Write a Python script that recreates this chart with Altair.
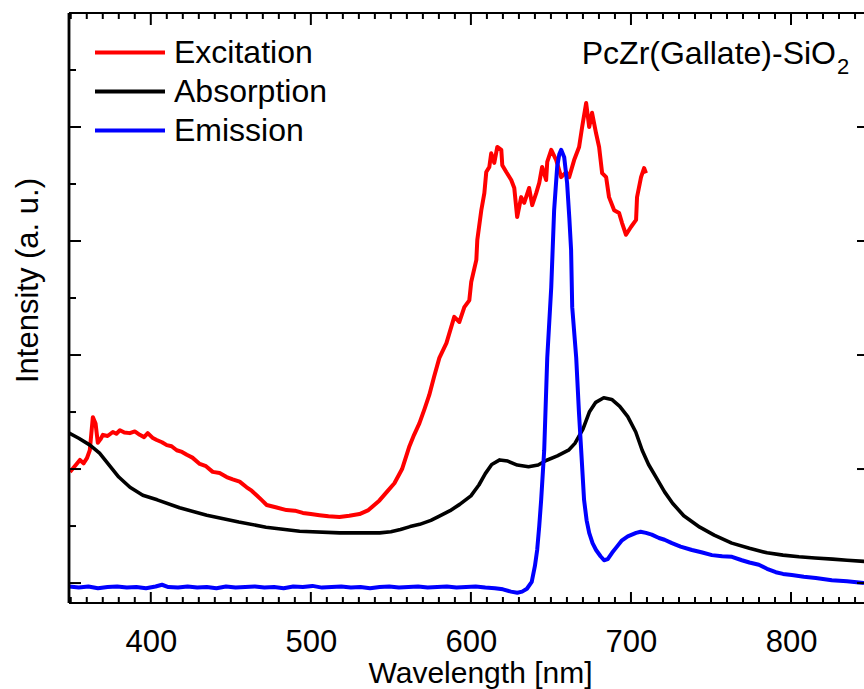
import altair as alt
import pandas as pd

FONT = "Liberation Sans"

# ---------------- data ----------------
series_names = ["Excitation", "Absorption", "Emission"]
series_colors = ["#ff0000", "#000000", "#0000ff"]

excitation = [
    (349.5, 1.95), (352.5, 2.05), (355.7, 2.16), (358.0, 2.10), (360.1, 2.19),
    (361.9, 2.33), (363.8, 2.91), (365.5, 2.80), (366.9, 2.46), (368.5, 2.52),
    (370.1, 2.60), (373.0, 2.58), (376.3, 2.65), (378.5, 2.62), (380.7, 2.68),
    (383.5, 2.64), (386.9, 2.63), (390.0, 2.66), (393.1, 2.60), (395.8, 2.56),
    (398.1, 2.63), (401.0, 2.55), (403.7, 2.51), (407.0, 2.47), (410.0, 2.42),
    (413.0, 2.40), (416.2, 2.33), (419.5, 2.30), (422.5, 2.25), (426.0, 2.20),
    (430.6, 2.09), (434.5, 2.05), (438.7, 1.95), (443.0, 1.93), (447.4, 1.86),
    (451.2, 1.82), (455.5, 1.78), (459.9, 1.68), (463.0, 1.62), (466.1, 1.54),
    (469.5, 1.45), (472.4, 1.37), (478.0, 1.33), (484.8, 1.28), (490.0, 1.27),
    (495.0, 1.23), (500.0, 1.21), (505.4, 1.19), (511.0, 1.17), (517.9, 1.16),
    (524.0, 1.18), (530.4, 1.21), (536.0, 1.28), (542.9, 1.45), (547.5, 1.60),
    (552.2, 1.75), (557.0, 2.00), (561.6, 2.40), (564.5, 2.60), (567.8, 2.80),
    (571.0, 3.05), (574.0, 3.30), (577.0, 3.62), (580.3, 3.95), (584.7, 4.21),
    (589.6, 4.67), (592.8, 4.58), (595.9, 4.84), (599.0, 4.96), (600.2, 5.28),
    (603.4, 5.67), (604.0, 6.02), (606.5, 6.54), (608.4, 6.84), (609.6, 7.21),
    (611.5, 7.30), (612.7, 7.54), (614.6, 7.37), (616.5, 7.65), (619.0, 7.60),
    (619.6, 7.33), (622.1, 7.21), (625.2, 7.07), (627.1, 6.93), (628.9, 6.42),
    (631.4, 6.77), (633.3, 6.67), (636.4, 6.93), (638.3, 6.63), (640.8, 6.84),
    (642.7, 7.02), (644.5, 7.30), (647.0, 7.07), (647.7, 7.39), (650.2, 7.60),
    (653.3, 7.42), (656.4, 7.12), (659.5, 7.21), (661.4, 7.12), (664.5, 7.42),
    (667.6, 7.65), (669.5, 8.00), (672.0, 8.42), (673.9, 8.00), (675.7, 8.25),
    (678.2, 7.89), (680.1, 7.65), (682.0, 7.19), (684.5, 7.12), (686.3, 6.77),
    (689.5, 6.54), (692.6, 6.49), (694.4, 6.32), (696.9, 6.11), (700.1, 6.25),
    (703.2, 6.37), (703.8, 6.77), (706.3, 7.12), (708.2, 7.28), (709.4, 7.19),
]

absorption = [
    (349, 2.63), (355, 2.54), (362, 2.42), (368, 2.28), (374, 2.07),
    (380, 1.86), (387, 1.68), (395, 1.54), (404, 1.46), (418, 1.32),
    (435, 1.19), (455, 1.07), (472, 0.98), (493, 0.91), (518, 0.88),
    (543, 0.88), (550, 0.90), (556, 0.94), (562, 0.99), (568, 1.03),
    (575, 1.10), (580, 1.17), (587, 1.27), (593, 1.38), (600, 1.53),
    (605, 1.72), (609, 1.92), (613, 2.08), (618, 2.16), (623, 2.14),
    (629, 2.07), (636, 2.04), (642, 2.07), (647, 2.15), (654, 2.23),
    (661, 2.33), (665, 2.45), (670, 2.70), (674, 3.00), (678, 3.17),
    (683, 3.25), (688, 3.22), (693, 3.10), (698, 2.92), (703, 2.65),
    (707, 2.33), (711, 2.08), (716, 1.84), (721, 1.60), (726, 1.40),
    (733, 1.18), (743, 0.98), (752, 0.84), (763, 0.70), (774, 0.61),
    (785, 0.53), (795, 0.49), (805, 0.46), (815, 0.44), (826, 0.42),
    (835, 0.40), (846, 0.38),
]

emission = [
    (349, -0.06), (355, -0.08), (361, -0.06), (367, -0.09), (373, -0.07),
    (379, -0.06), (385, -0.08), (391, -0.07), (397, -0.09), (403, -0.06),
    (407, -0.03), (411, -0.07), (417, -0.08), (423, -0.06), (429, -0.08),
    (435, -0.07), (441, -0.09), (447, -0.06), (453, -0.08), (459, -0.07),
    (465, -0.06), (471, -0.08), (477, -0.07), (483, -0.09), (489, -0.06),
    (495, -0.07), (501, -0.05), (507, -0.08), (513, -0.07), (519, -0.06),
    (525, -0.08), (531, -0.07), (537, -0.09), (543, -0.07), (549, -0.06),
    (555, -0.08), (561, -0.07), (567, -0.06), (573, -0.08), (579, -0.07),
    (585, -0.06), (591, -0.08), (597, -0.07), (603, -0.06), (609, -0.08),
    (615, -0.09), (620, -0.11), (625, -0.15), (629, -0.17), (632, -0.15),
    (635, -0.10), (638, 0.02), (640, 0.30), (641.4, 0.58), (642.7, 1.00),
    (643.9, 1.46), (645.8, 2.33), (647.7, 3.95), (650.2, 5.19), (652.0, 6.54),
    (653.9, 7.30), (655.2, 7.52), (656.4, 7.60), (658.3, 7.47), (660.1, 7.02),
    (661.5, 6.40), (662.6, 5.84), (663.3, 4.84), (665.8, 3.95), (667.5, 3.00),
    (668.9, 2.33), (670.7, 1.46), (672.3, 1.10), (673.9, 0.88), (676.0, 0.70),
    (678.2, 0.58), (681.0, 0.47), (683.2, 0.40), (685.5, 0.42), (688.2, 0.53),
    (691.0, 0.63), (694.4, 0.75), (698.0, 0.82), (703.2, 0.88), (706.0, 0.90),
    (709.4, 0.88), (713.0, 0.85), (717.5, 0.79), (721.0, 0.76), (725.6, 0.70),
    (731.0, 0.64), (738.1, 0.58), (744.0, 0.54), (750.6, 0.49), (757.0, 0.47),
    (763.1, 0.46), (769.3, 0.40), (774.0, 0.36), (779.9, 0.32), (785.0, 0.25),
    (790.5, 0.19), (795.0, 0.16), (800.5, 0.14), (808.0, 0.11), (815.5, 0.09),
    (825.5, 0.05), (835.0, 0.03), (845.6, 0.00),
]

x_major_ticks = [400, 500, 600, 700, 800]
x_minor_ticks = [350, 360, 370, 380, 390, 410, 420, 430, 440, 450, 460, 470, 480, 490,
                 510, 520, 530, 540, 550, 560, 570, 580, 590, 610, 620, 630, 640, 650,
                 660, 670, 680, 690, 710, 720, 730, 740, 750, 760, 770, 780, 790, 810,
                 820, 830, 840]
y_major_ticks = [0, 2, 4, 6, 8]
y_minor_ticks = [1, 3, 5, 7, 9]

sample_name = "PcZr(Gallate)-SiO"
sample_sub = "2"

# ---------------- layout ----------------
W, H = 795, 590
X_DOMAIN = [348.9, 845.6]
Y_DOMAIN = [-0.35, 10]

rows = []
for name, pts in zip(series_names, [excitation, absorption, emission]):
    for nm, v in pts:
        rows.append({"series": name, "nm": nm, "intensity": v})
df = pd.DataFrame(rows)

xscale = alt.Scale(domain=X_DOMAIN, nice=False, zero=False)
yscale = alt.Scale(domain=Y_DOMAIN, nice=False, zero=False)

x_axis = alt.Axis(
    title="Wavelength [nm]", values=x_major_ticks, format="d", grid=False,
    ticks=False, domain=False, labelFont=FONT, labelFontSize=31, labelColor="black",
    labelBaseline="alphabetic", labelPadding=48, labelFlush=False,
    titleFont=FONT, titleFontSize=30, titleFontWeight="normal", titleColor="black",
    titleX=411, titleY=79, titleBaseline="alphabetic", titleAlign="center",
)
y_axis = alt.Axis(
    title="Intensity (a. u.)", labels=False, ticks=False, grid=False, domain=False,
    titleFont=FONT, titleFontSize=31, titleFontWeight="normal", titleColor="black",
    titleX=-32, titleY=267, titleAlign="center", titleBaseline="alphabetic", titleAngle=270,
)

color = alt.Color(
    "series:N",
    scale=alt.Scale(domain=series_names, range=series_colors),
    legend=alt.Legend(
        title=None, orient="none", legendX=24, legendY=20, symbolType="stroke",
        symbolSize=4900, symbolStrokeWidth=4, labelFont=FONT, labelFontSize=32,
        labelColor="black", labelOffset=7, rowPadding=0, padding=0, clipHeight=39,
    ),
)

base = alt.Chart(df)


def series_line(name, width):
    return base.transform_filter(alt.datum.series == name).mark_line(
        strokeWidth=width, clip=True, strokeJoin="round"
    ).encode(
        x=alt.X("nm:Q", scale=xscale, axis=x_axis),
        y=alt.Y("intensity:Q", scale=yscale, axis=y_axis),
        color=color,
    )


lines = [series_line("Excitation", 4), series_line("Absorption", 3.6), series_line("Emission", 4)]

xt_major = pd.DataFrame({"v": x_major_ticks})
xt_minor = pd.DataFrame({"v": x_minor_ticks})
yt_major = pd.DataFrame({"v": y_major_ticks})
yt_minor = pd.DataFrame({"v": y_minor_ticks})

tick_style = dict(color="black", strokeWidth=2)


def xticks(data, y0, y1):
    return alt.Chart(data).mark_rule(**tick_style).encode(
        x=alt.X("v:Q", scale=xscale, axis=x_axis), y=alt.value(y0), y2=alt.value(y1)
    )


def yticks(data, x0, x1):
    return alt.Chart(data).mark_rule(**tick_style).encode(
        y=alt.Y("v:Q", scale=yscale, axis=y_axis), x=alt.value(x0), x2=alt.value(x1)
    )


ticks = [
    xticks(xt_major, H, H - 11), xticks(xt_minor, H, H - 6),
    xticks(xt_major, 0, 12), xticks(xt_minor, 0, 6),
    yticks(yt_major, 0, 12), yticks(yt_minor, 0, 7),
    yticks(yt_major, W, W - 7),
]

frame = [
    alt.Chart(xt_major).mark_rule(color="black", strokeWidth=2.2).encode(
        x=alt.value(0), x2=alt.value(W), y=alt.value(0)),
    alt.Chart(xt_major).mark_rule(color="black", strokeWidth=2.2).encode(
        x=alt.value(0), x2=alt.value(W), y=alt.value(H)),
    alt.Chart(xt_major).mark_rule(color="black", strokeWidth=2.2).encode(
        x=alt.value(0), y=alt.value(0), y2=alt.value(H)),
]

label_main = alt.Chart(pd.DataFrame({"t": [sample_name]})).mark_text(
    font=FONT, fontSize=32, align="right", baseline="alphabetic", color="black"
).encode(text="t:N", x=alt.value(767), y=alt.value(51))
label_sub = alt.Chart(pd.DataFrame({"t": [sample_sub]})).mark_text(
    font=FONT, fontSize=22, align="left", baseline="alphabetic", color="black"
).encode(text="t:N", x=alt.value(768), y=alt.value(61))

chart = alt.layer(*lines, *ticks, *frame, label_main, label_sub).properties(
    width=W, height=H,
    autosize=alt.AutoSizeParams(type="none"),
    padding={"left": 69, "top": 13, "right": 0, "bottom": 86},
    background="white",
).configure_view(stroke=None)

chart.save("out.html", embed_options={"renderer": "svg", "actions": False})
